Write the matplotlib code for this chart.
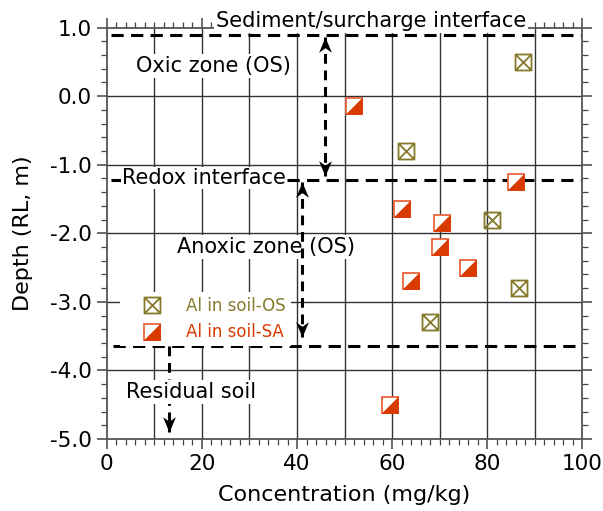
import matplotlib
matplotlib.use("Agg")
import matplotlib.pyplot as plt
import numpy as np
from matplotlib.path import Path
from matplotlib.lines import Line2D
from matplotlib.legend_handler import HandlerTuple

plt.rcParams["font.family"] = ["DejaVu Sans"]
plt.rcParams["axes.unicode_minus"] = False

# Al concentration (mg/kg) vs depth (RL, m)
os_conc = [87.5, 63.0, 81.0, 86.7, 68.0]
os_depth = [0.50, -0.80, -1.80, -2.80, -3.30]
sa_conc = [52.0, 86.0, 62.0, 70.5, 70.0, 76.0, 64.0, 59.5]
sa_depth = [-0.15, -1.25, -1.65, -1.85, -2.20, -2.50, -2.70, -4.50]

# zone boundaries (depth)
sediment_top = 0.89
redox_depth = -1.22
residual_top = -3.65

x_ticks = [0, 20, 40, 60, 80, 100]
y_ticks = [1.0, 0.0, -1.0, -2.0, -3.0, -4.0, -5.0]

OS_COLOR = "#857a2a"
SA_FILL = "#d93a00"
SA_EDGE = "#e8643c"

# boxed-cross marker
box_x = Path(
    [(-1, -1), (1, -1), (1, 1), (-1, 1), (-1, -1), (-1, -1), (1, 1), (-1, 1), (1, -1)],
    [Path.MOVETO, Path.LINETO, Path.LINETO, Path.LINETO, Path.CLOSEPOLY,
     Path.MOVETO, Path.LINETO, Path.MOVETO, Path.LINETO],
)
# lower-right half of a square
half_tri = Path([(-1, -1), (1, -1), (1, 1), (-1, -1)],
                [Path.MOVETO, Path.LINETO, Path.LINETO, Path.CLOSEPOLY])
# notched arrow heads, tip at the origin
head_up = Path([(0, 0), (0.42, -1), (0, -0.7), (-0.42, -1), (0, 0)],
               [Path.MOVETO, Path.LINETO, Path.LINETO, Path.LINETO, Path.CLOSEPOLY])
head_down = Path([(0, 0), (0.42, 1), (0, 0.7), (-0.42, 1), (0, 0)],
                 [Path.MOVETO, Path.LINETO, Path.LINETO, Path.LINETO, Path.CLOSEPOLY])

MS = 11.5

fig = plt.figure(figsize=(6.03, 5.11), dpi=100)
ax = fig.add_axes([0.177, 0.141, 0.789, 0.805])

ax.set_xlim(0, 100)
ax.set_ylim(-5.0, 1.0)
ax.set_xticks(x_ticks)
ax.set_yticks(y_ticks)
ax.set_xticks(np.arange(0, 101, 2), minor=True)
ax.set_yticks(np.arange(-5.0, 1.01, 0.2), minor=True)
ax.set_yticklabels([f"{v:.1f}" for v in y_ticks])
ax.tick_params(which="both", direction="out", top=True, right=True,
               color="#444444", labelsize=15.5)
ax.tick_params(which="major", length=7, width=1.1, pad=4)
ax.tick_params(which="minor", length=4, width=0.9)
for s in ax.spines.values():
    s.set_color("#555555")
    s.set_linewidth(1.3)

# grid every 10 mg/kg and every 1 m
for gx in range(10, 100, 10):
    ax.axvline(gx, color="#333333", lw=1.0, zorder=0)
for gy in range(-4, 1):
    ax.axhline(gy, color="#333333", lw=1.0, zorder=0)

dash = (0, (4, 2.4))
ax.plot([0.8, 100], [sediment_top] * 2, color="k", lw=2.2, ls=dash, zorder=2)
ax.plot([0.8, 100], [redox_depth] * 2, color="k", lw=2.2, ls=dash, zorder=2)
ax.plot([1.3, 100], [residual_top] * 2, color="k", lw=2.2, ls=dash, zorder=2)


def dashed_arrow(x, y_top, y_bot, top_head=True, bot_head=True, z=4):
    ax.plot([x, x], [y_top, y_bot], color="k", lw=2.2, ls=(0, (3.2, 2.2)), zorder=z)
    if top_head:
        ax.plot(x, y_top, marker=head_up, ms=22, color="k", mew=0, ls="none", zorder=z + 1)
    if bot_head:
        ax.plot(x, y_bot, marker=head_down, ms=22, color="k", mew=0, ls="none", zorder=z + 1)


dashed_arrow(45.8, sediment_top - 0.03, redox_depth + 0.05)
dashed_arrow(41.0, redox_depth - 0.03, residual_top + 0.13)
dashed_arrow(13.0, residual_top, -4.90, top_head=False, z=2)

txt_box = dict(boxstyle="square,pad=0.1", fc="white", ec="none")
ax.text(55.5, 1.10, "Sediment/surcharge interface", fontsize=15, ha="center",
        va="center", bbox=txt_box, clip_on=False, zorder=6)
ax.text(22.5, 0.44, "Oxic zone (OS)", fontsize=15, ha="center", va="center",
        bbox=txt_box, zorder=3)
ax.text(20.5, -1.19, "Redox interface", fontsize=15, ha="center", va="center",
        bbox=dict(boxstyle="square,pad=0.05", fc="white", ec="none"), zorder=3)
ax.text(33.5, -2.20, "Anoxic zone (OS)", fontsize=15, ha="center", va="center",
        bbox=txt_box, zorder=3)
ax.text(17.8, -4.31, "Residual soil", fontsize=15, ha="center", va="center",
        bbox=txt_box, zorder=3.5)

ax.plot(os_conc, os_depth, ls="none", marker=box_x, ms=MS, mfc="none",
        mec=OS_COLOR, mew=1.3, zorder=7)
ax.plot(sa_conc, sa_depth, ls="none", marker="s", ms=MS, mfc="white",
        mec=SA_EDGE, mew=1.3, zorder=7)
ax.plot(sa_conc, sa_depth, ls="none", marker=half_tri, ms=MS, mfc=SA_FILL,
        mec=SA_FILL, mew=0.6, zorder=8)

os_handle = Line2D([], [], ls="none", marker=box_x, ms=MS, mfc="none", mec=OS_COLOR, mew=1.3)
sa_sq = Line2D([], [], ls="none", marker="s", ms=MS, mfc="white", mec=SA_EDGE, mew=1.3)
sa_tri = Line2D([], [], ls="none", marker=half_tri, ms=MS, mfc=SA_FILL, mec=SA_FILL, mew=0.6)
leg = ax.legend([os_handle, (sa_sq, sa_tri)], ["Al in soil-OS", "Al in soil-SA"],
                handler_map={tuple: HandlerTuple(ndivide=1)},
                loc="upper left", bbox_to_anchor=(0.028, 0.357), fontsize=12,
                frameon=True, facecolor="white", edgecolor="none", framealpha=1,
                fancybox=False, handlelength=3.2, handletextpad=0.45,
                labelspacing=0.5, borderpad=0.3, borderaxespad=0)
leg.set_zorder(6)
leg.get_texts()[0].set_color(OS_COLOR)
leg.get_texts()[1].set_color(SA_FILL)

ax.set_xlabel("Concentration (mg/kg)", fontsize=16)
ax.set_ylabel("Depth (RL, m)", fontsize=16)
ax.xaxis.set_label_coords(0.5, -0.112)
ax.yaxis.set_label_coords(-0.155, 0.5)

fig.savefig("out.png", dpi=100)
